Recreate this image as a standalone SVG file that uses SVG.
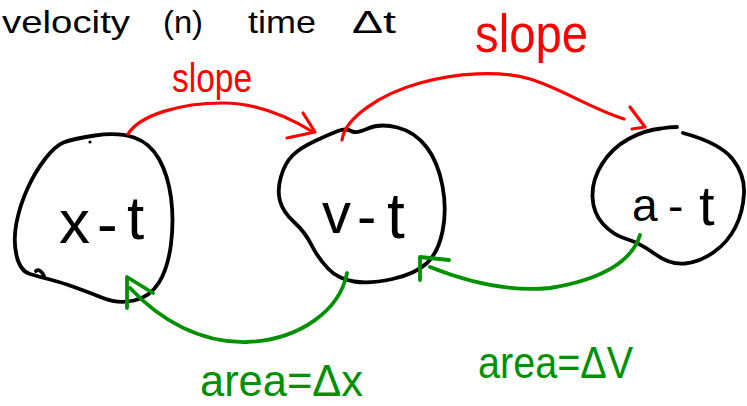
<svg xmlns="http://www.w3.org/2000/svg" width="747" height="406" viewBox="0 0 747 406">
<style>
.blob{fill:none;stroke:#000;stroke-width:3.8;stroke-linecap:round;stroke-linejoin:round}
.red{fill:none;stroke:#ff0000;stroke-width:3.2;stroke-linecap:round;stroke-linejoin:round}
.grn{fill:none;stroke:#009100;stroke-width:3.8;stroke-linecap:round;stroke-linejoin:round}
.lbl{font-family:"Liberation Sans",Arial,sans-serif;fill:#000}
.rt{font-family:"Liberation Sans",Arial,sans-serif;fill:#ff0000}
.gt{font-family:"Liberation Sans",Arial,sans-serif;fill:#009100}
</style>
<rect width="747" height="406" fill="#fff"/>
<g id="title">
<text class="lbl" x="2" y="33" font-size="32" textLength="128" lengthAdjust="spacingAndGlyphs">velocity</text>
<text class="lbl" x="163" y="33" font-size="32" textLength="40" lengthAdjust="spacingAndGlyphs">(n)</text>
<text class="lbl" x="248" y="33" font-size="32" textLength="68" lengthAdjust="spacingAndGlyphs">time</text>
<text class="lbl" x="352" y="33" font-size="32" textLength="44" lengthAdjust="spacingAndGlyphs">Δt</text>
</g>
<g id="node-xt">
<path class="blob" d="M63.5,142.5 Q72,139 95,135.5 Q118,132 134,137.5 Q150,143 159,159 Q168,175 171,197.5 Q174,220 171,244 Q168,268 159,282.5 Q150,297 134,300.5 Q118,304 103,298 Q88,292 74,287 Q60,282 50,279.5 Q40,277 30,274 Q20,271 16.5,255.5 Q13,240 16.5,222.5 Q20,205 27.5,188.5 Q35,172 45,159 Q55,146 63.5,142.5 Z" stroke-width="4.5"/>
<path class="blob" d="M36,271 Q40,268 44,276" stroke-width="3"/>
<circle cx="90" cy="142" r="1.6" fill="#000"/>
<text class="lbl" font-size="62" x="59" y="243">x</text>
<text class="lbl" font-size="62" x="97" y="245">-</text>
<text class="lbl" font-size="62" x="127" y="239">t</text>
</g>
<g id="node-vt">
<path class="blob" d="M292.5,155.5 Q300,148 315,141 Q330,134 338,131 Q346,128 351,131 Q356,134 368,128.5 Q380,123 397.5,127.5 Q415,132 426.5,147 Q438,162 442.5,186 Q447,210 442.5,231.5 Q438,253 426.5,263.5 Q415,274 392.5,279 Q370,284 354,281.5 Q338,279 328,268.5 Q318,258 311.5,245 Q305,232 294,222 Q283,212 280,201 Q277,190 281,176.5 Q285,163 292.5,155.5 Z"/>
<text class="lbl" font-size="58" x="322" y="233">v</text>
<text class="lbl" font-size="58" x="357" y="236">-</text>
<text class="lbl" font-size="64" x="387" y="238">t</text>
</g>
<g id="node-at">
<path class="blob" d="M683,133 Q720,143 732.5,159 Q745,175 744,193.5 Q743,212 735.5,227 Q728,242 714,252 Q700,262 685,263.5 Q670,265 655,254 Q640,243 626.5,239 Q613,235 603,224 Q593,213 592.5,196.5 Q592,180 602,164 Q612,148 628.5,139 Q645,130 661,128.5 Q669,127 677,127"/>
<text class="lbl" font-size="46" x="632" y="221">a</text>
<text class="lbl" font-size="46" x="668" y="222">-</text>
<text class="lbl" font-size="56" x="699" y="225">t</text>
</g>
<g id="connectors">
<path class="red" d="M128,134 C140,115 180,103 223,103 C255,103 285,115 313,132"/>
<path class="red" d="M303,113 L315,132 L287,138"/>
<path class="red" d="M342,140 C345,118 380,94 420,83 C455,73 500,70 530,79 C560,88 590,108 624,119"/>
<path class="red" d="M630,107 L645,127 L632,129"/>
<path class="grn" d="M347,273 C340,310 300,340 247,342 C200,343 160,320 130,288"/>
<path class="grn" d="M127,308 L127,277 L153,293"/>
<path class="grn" d="M640,235 C632,262 600,280 550,288 C510,292 470,283 430,267"/>
<path class="grn" d="M420,280 L420,257 L449,260"/>
</g>
<g id="labels">
<text class="rt" font-size="40" x="172" y="92" textLength="80" lengthAdjust="spacingAndGlyphs">slope</text>
<text class="rt" font-size="54" x="475" y="52" textLength="113" lengthAdjust="spacingAndGlyphs">slope</text>
<text class="gt" font-size="44" x="200" y="396" textLength="163" lengthAdjust="spacingAndGlyphs">area=Δx</text>
<text class="gt" font-size="44" x="478" y="378" textLength="155" lengthAdjust="spacingAndGlyphs">area=ΔV</text>
</g>
</svg>
